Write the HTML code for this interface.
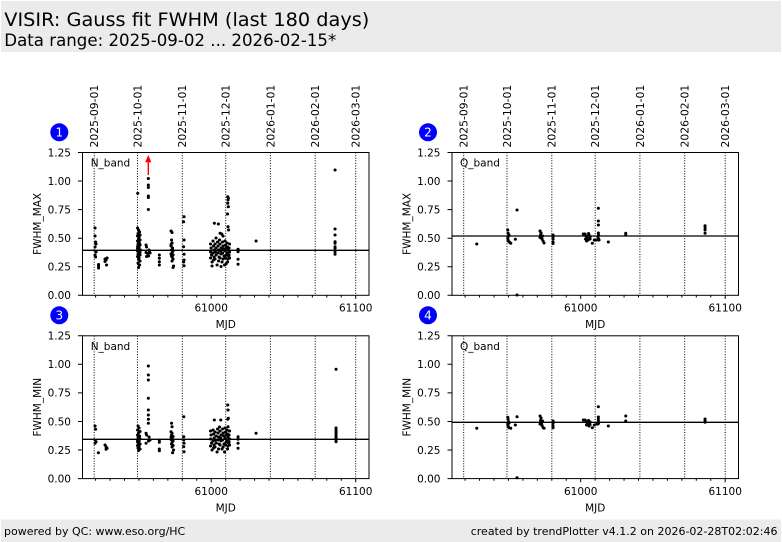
<!DOCTYPE html>
<html><head><meta charset="utf-8"><style>
html,body{margin:0;padding:0;background:#fff;}
svg{display:block;}
text{font-family:"DejaVu Sans","Liberation Sans",sans-serif;fill:#000;}
.m{font-family:"DejaVu Sans Mono","Liberation Mono",monospace;font-size:10.8px;}
.t{font-size:10.5px;}
</style></head><body>
<svg width="782" height="542" viewBox="0 0 782 542" xmlns="http://www.w3.org/2000/svg">
<rect x="0" y="0" width="782" height="542" fill="#fff"/>
<rect x="1" y="1" width="780" height="51" fill="#ebebeb"/>
<text x="4.3" y="26" font-size="19" textLength="365" lengthAdjust="spacingAndGlyphs">VISIR: Gauss fit FWHM (last 180 days)</text>
<text x="4.3" y="46" font-size="16.5" textLength="332" lengthAdjust="spacingAndGlyphs">Data range: 2025-09-02 ... 2026-02-15*</text>
<rect x="1" y="519.5" width="780" height="22.5" fill="#ebebeb"/>
<text x="4" y="535" font-size="11">powered by QC: www.eso.org/HC</text>
<text x="777.5" y="535" font-size="11" text-anchor="end">created by trendPlotter v4.1.2 on 2026-02-28T02:02:46</text>

<!-- Panel frame 1 -->
<g id="f1">
<g stroke="#000" stroke-width="1" fill="none">
<path stroke-dasharray="1 1.6" d="M94.2 152.5V295.3M137.5 152.5V295.3M182.3 152.5V295.3M225.7 152.5V295.3M270.4 152.5V295.3M315.2 152.5V295.3M355.7 152.5V295.3"/>
<rect x="82.5" y="152.5" width="286.5" height="142.8"/>
<path d="M78 152.5h4.5M78 181h4.5M78 209.6h4.5M78 238.2h4.5M78 266.7h4.5M78 295.3h4.5"/>
<path d="M95.6 295.3v2.2M110.05 295.3v2.2M124.5 295.3v2.2M138.95 295.3v2.2M153.4 295.3v2.2M167.85 295.3v2.2M182.3 295.3v2.2M196.75 295.3v2.2M225.65 295.3v2.2M240.1 295.3v2.2M254.55 295.3v2.2M269 295.3v2.2M283.45 295.3v2.2M297.9 295.3v2.2M312.35 295.3v2.2M326.8 295.3v2.2M341.25 295.3v2.2M211.2 295.3v3.6M355.7 295.3v3.6"/>
</g>
<g class="t" text-anchor="end">
<text x="71" y="156.3">1.25</text><text x="71" y="184.8">1.00</text><text x="71" y="213.4">0.75</text><text x="71" y="242">0.50</text><text x="71" y="270.5">0.25</text><text x="71" y="299.1">0.00</text>
</g>
<g class="t" text-anchor="middle">
<text x="211.2" y="311.5">61000</text><text x="355.7" y="311.5">61100</text><text x="225.7" y="328">MJD</text>
</g>
</g>

<!-- Panel frame 2 -->
<g transform="translate(369.5,0)">
<g stroke="#000" stroke-width="1" fill="none">
<path stroke-dasharray="1 1.6" d="M94.2 152.5V295.3M137.5 152.5V295.3M182.3 152.5V295.3M225.7 152.5V295.3M270.4 152.5V295.3M315.2 152.5V295.3M355.7 152.5V295.3"/>
<rect x="82.5" y="152.5" width="286.5" height="142.8"/>
<path d="M78 152.5h4.5M78 181h4.5M78 209.6h4.5M78 238.2h4.5M78 266.7h4.5M78 295.3h4.5"/>
<path d="M95.6 295.3v2.2M110.05 295.3v2.2M124.5 295.3v2.2M138.95 295.3v2.2M153.4 295.3v2.2M167.85 295.3v2.2M182.3 295.3v2.2M196.75 295.3v2.2M225.65 295.3v2.2M240.1 295.3v2.2M254.55 295.3v2.2M269 295.3v2.2M283.45 295.3v2.2M297.9 295.3v2.2M312.35 295.3v2.2M326.8 295.3v2.2M341.25 295.3v2.2M211.2 295.3v3.6M355.7 295.3v3.6"/>
</g>
<g class="t" text-anchor="end">
<text x="71" y="156.3">1.25</text><text x="71" y="184.8">1.00</text><text x="71" y="213.4">0.75</text><text x="71" y="242">0.50</text><text x="71" y="270.5">0.25</text><text x="71" y="299.1">0.00</text>
</g>
<g class="t" text-anchor="middle">
<text x="211.2" y="311.5">61000</text><text x="355.7" y="311.5">61100</text><text x="225.7" y="328">MJD</text>
</g>
</g>

<!-- Panel frame 3 -->
<g transform="translate(0,183.3)">
<g stroke="#000" stroke-width="1" fill="none">
<path stroke-dasharray="1 1.6" d="M94.2 152.5V295.3M137.5 152.5V295.3M182.3 152.5V295.3M225.7 152.5V295.3M270.4 152.5V295.3M315.2 152.5V295.3M355.7 152.5V295.3"/>
<rect x="82.5" y="152.5" width="286.5" height="142.8"/>
<path d="M78 152.5h4.5M78 181h4.5M78 209.6h4.5M78 238.2h4.5M78 266.7h4.5M78 295.3h4.5"/>
<path d="M95.6 295.3v2.2M110.05 295.3v2.2M124.5 295.3v2.2M138.95 295.3v2.2M153.4 295.3v2.2M167.85 295.3v2.2M182.3 295.3v2.2M196.75 295.3v2.2M225.65 295.3v2.2M240.1 295.3v2.2M254.55 295.3v2.2M269 295.3v2.2M283.45 295.3v2.2M297.9 295.3v2.2M312.35 295.3v2.2M326.8 295.3v2.2M341.25 295.3v2.2M211.2 295.3v3.6M355.7 295.3v3.6"/>
</g>
<g class="t" text-anchor="end">
<text x="71" y="156.3">1.25</text><text x="71" y="184.8">1.00</text><text x="71" y="213.4">0.75</text><text x="71" y="242">0.50</text><text x="71" y="270.5">0.25</text><text x="71" y="299.1">0.00</text>
</g>
<g class="t" text-anchor="middle">
<text x="211.2" y="311.5">61000</text><text x="355.7" y="311.5">61100</text><text x="225.7" y="328">MJD</text>
</g>
</g>

<!-- Panel frame 4 -->
<g transform="translate(369.5,183.3)">
<g stroke="#000" stroke-width="1" fill="none">
<path stroke-dasharray="1 1.6" d="M94.2 152.5V295.3M137.5 152.5V295.3M182.3 152.5V295.3M225.7 152.5V295.3M270.4 152.5V295.3M315.2 152.5V295.3M355.7 152.5V295.3"/>
<rect x="82.5" y="152.5" width="286.5" height="142.8"/>
<path d="M78 152.5h4.5M78 181h4.5M78 209.6h4.5M78 238.2h4.5M78 266.7h4.5M78 295.3h4.5"/>
<path d="M95.6 295.3v2.2M110.05 295.3v2.2M124.5 295.3v2.2M138.95 295.3v2.2M153.4 295.3v2.2M167.85 295.3v2.2M182.3 295.3v2.2M196.75 295.3v2.2M225.65 295.3v2.2M240.1 295.3v2.2M254.55 295.3v2.2M269 295.3v2.2M283.45 295.3v2.2M297.9 295.3v2.2M312.35 295.3v2.2M326.8 295.3v2.2M341.25 295.3v2.2M211.2 295.3v3.6M355.7 295.3v3.6"/>
</g>
<g class="t" text-anchor="end">
<text x="71" y="156.3">1.25</text><text x="71" y="184.8">1.00</text><text x="71" y="213.4">0.75</text><text x="71" y="242">0.50</text><text x="71" y="270.5">0.25</text><text x="71" y="299.1">0.00</text>
</g>
<g class="t" text-anchor="middle">
<text x="211.2" y="311.5">61000</text><text x="355.7" y="311.5">61100</text><text x="225.7" y="328">MJD</text>
</g>
</g>

<!-- Date labels top panels -->
<g class="m">
<text transform="translate(98.1,147.5) rotate(-90)">2025-09-01</text>
<text transform="translate(141.4,147.5) rotate(-90)">2025-10-01</text>
<text transform="translate(186.2,147.5) rotate(-90)">2025-11-01</text>
<text transform="translate(229.6,147.5) rotate(-90)">2025-12-01</text>
<text transform="translate(274.3,147.5) rotate(-90)">2026-01-01</text>
<text transform="translate(319.1,147.5) rotate(-90)">2026-02-01</text>
<text transform="translate(359.6,147.5) rotate(-90)">2026-03-01</text>
</g>
<g class="m" transform="translate(369.5,0)">
<text transform="translate(98.1,147.5) rotate(-90)">2025-09-01</text>
<text transform="translate(141.4,147.5) rotate(-90)">2025-10-01</text>
<text transform="translate(186.2,147.5) rotate(-90)">2025-11-01</text>
<text transform="translate(229.6,147.5) rotate(-90)">2025-12-01</text>
<text transform="translate(274.3,147.5) rotate(-90)">2026-01-01</text>
<text transform="translate(319.1,147.5) rotate(-90)">2026-02-01</text>
<text transform="translate(359.6,147.5) rotate(-90)">2026-03-01</text>
</g>

<!-- Y axis labels -->
<g class="t" text-anchor="middle">
<text transform="translate(40.8,223.9) rotate(-90)">FWHM_MAX</text>
<text transform="translate(410.3,223.9) rotate(-90)">FWHM_MAX</text>
<text transform="translate(40.8,407.2) rotate(-90)">FWHM_MIN</text>
<text transform="translate(410.3,407.2) rotate(-90)">FWHM_MIN</text>
</g>
<!-- band labels -->
<g class="t">
<text x="90.7" y="166.6">N_band</text>
<text x="460" y="166.6">Q_band</text>
<text x="90.7" y="349.9">N_band</text>
<text x="460" y="349.9">Q_band</text>
</g>

<!-- numbered circles -->
<g fill="#0000ff">
<circle cx="59.3" cy="132.3" r="9"/><circle cx="428" cy="132.3" r="9"/>
<circle cx="59.3" cy="315.3" r="9"/><circle cx="428" cy="315.3" r="9"/>
</g>
<g font-size="12" text-anchor="middle" style="fill:#fff">
<text x="59.3" y="136.6" style="fill:#fff">1</text><text x="428" y="136.6" style="fill:#fff">2</text>
<text x="59.3" y="319.6" style="fill:#fff">3</text><text x="428" y="319.6" style="fill:#fff">4</text>
</g>

<!-- reference lines -->
<g stroke="#000" stroke-width="1.3">
<path d="M82.5 250.3H369M452 236H738.5M82.5 439.3H369M452 422.3H738.5"/>
</g>

<!-- data points -->
<g stroke="#000" stroke-width="3" stroke-linecap="round" fill="none">
<path d="M95 228h.1M95 236h.1M95.5 242h.1M96 244h.1M95 247h.1M96 252h.1M95 255h.1M95.5 257h.1M98.5 264.5h.1M98.5 266h.1M98.5 268h.1M105 259h.1M106 260h.1M107 258h.1M106.5 265h.1M105 261.5h.1
M137.7 193.3h.1M137.5 228h.1M138.5 230h.1M139.5 232h.1M138 233.5h.1M140 235h.1M137.5 236h.1M139 237.5h.1M138.5 239h.1M140 240h.1M137.5 241h.1M139 242.5h.1M138 244h.1M140 245h.1M137.5 246.5h.1M139 247.5h.1M138.5 249h.1M140.5 250h.1M137.5 251h.1M139 252.5h.1M138 254h.1M140 255h.1M137.5 256.5h.1M139 258h.1M138.5 259.5h.1M140 261h.1M138 263h.1M139.5 265h.1M138.5 267.5h.1M137.5 248.5h.1M140 252.5h.1M138 257h.1M139.5 243.5h.1
M146 245h.1M146.5 247h.1M146 252.5h.1M146.5 256.5h.1M148.3 178.5h.1M148.3 185h.1M148.3 187.5h.1M148.3 196h.1M148.3 197.5h.1M148.3 209.5h.1M149 250h.1M150 253h.1M148.5 256h.1M149.5 251.5h.1M147.5 253.5h.1
M159.3 255h.1M159.3 258.3h.1M159.3 261.7h.1M159.3 265h.1
M171 231h.1M172 232.5h.1M171.5 240h.1M172 243h.1M171 246h.1M172.5 248h.1M171.5 250h.1M173 251h.1M172 253h.1M171 254h.1M173 255h.1M172 257h.1M173 259h.1M172 261h.1M173.5 266h.1M173 267.5h.1M171 244.5h.1M172.5 249.5h.1M171.5 256h.1
M184 216.7h.1M183.5 221.7h.1M184 240h.1M183.5 246.7h.1M184 254.3h.1M184 260h.1M183.5 262h.1M184 265.7h.1
M227.7 196.7h.1M228.3 198.3h.1M228 200h.1M227.7 203.3h.1M228.3 206.7h.1M227.5 214h.1M228 226.7h.1M228.5 230h.1M214.3 223.3h.1M218.3 224h.1M220 233.3h.1M221.7 234h.1M223 236h.1M216 238h.1
M210.5 244h.1M211 248h.1M210.5 252h.1M211.5 255h.1M210.5 258h.1M212 262h.1M213 241h.1M213.5 246h.1M214 250h.1M213 253h.1M214 257h.1M213.5 260h.1M215 244h.1M216 248h.1M215.5 252h.1M216 255h.1M215 259h.1M217 265h.1M217.5 242h.1M218 246h.1M218.5 250h.1M218 253h.1M219 257h.1M218.5 261h.1M219.5 240h.1M220 244h.1M221 248h.1M220.5 251h.1M221 254h.1M220 258h.1M222 262h.1M222.5 242h.1M223 246h.1M223.5 249h.1M222.5 253h.1M224 256h.1M223 259h.1M224.5 265h.1M225 241h.1M225.5 245h.1M226 248h.1M225 251h.1M226 255h.1M225.5 258h.1M227 243h.1M227.5 247h.1M228 250h.1M227 253h.1M228.5 256h.1M228 259h.1M227.5 262h.1M229.5 244h.1M229 248h.1M229.5 252h.1M229 255h.1M229.5 258h.1M212 266h.1M221 266.5h.1M226 264h.1
M238 249.3h.1M238 251.7h.1M238 259.3h.1M238 264.3h.1M256 241h.1
M335 170h.1M335 229h.1M335 235h.1M335 241.7h.1M335 243.3h.1M335 246.7h.1M335 248.3h.1M335 251.7h.1M335 254.3h.1"/>

<path d="M476.7 244h.1M507.7 230h.1M508 233.3h.1M508.5 236h.1M507.7 238.3h.1M508 240h.1M509 241.7h.1M510 242.7h.1M510.7 243.3h.1M509 235h.1
M515.3 239.3h.1M517 210h.1M517 295h.1
M540 231h.1M541 233h.1M540.5 235h.1M541.5 237h.1M542 239h.1M543 241h.1M544 243h.1M542.5 236h.1M540 237.5h.1
M553 235h.1M553 237h.1M553 239h.1M553 242h.1M553 243.5h.1M583.3 234h.1
M585 234h.1M586 236h.1M587 238h.1M588 240h.1M589 235h.1M590 237h.1M586.5 241h.1M588.5 233.5h.1M590 239h.1M585.5 239h.1
M592.3 243.3h.1M594.3 240h.1M598.3 208.3h.1M598.3 221h.1M598.3 225h.1M598.3 233h.1M598.5 235h.1M598 237h.1M598.5 239h.1M599 240h.1M596.7 240h.1
M608.3 242h.1M625.7 233.3h.1M625.7 235h.1M705 225.7h.1M705 227.7h.1M705 230h.1M705 233.3h.1"/>

<path d="M95 426h.1M95.5 429.3h.1M95 440h.1M96 441.7h.1M95 443.3h.1M98.3 452.7h.1M105 445h.1M106 446.7h.1M107 448.3h.1M106 449.3h.1
M138 426h.1M139 428h.1M137.5 430h.1M140 431.5h.1M138.5 433h.1M137.5 435h.1M139.5 436h.1M138 437.5h.1M140 439h.1M137.5 440.5h.1M139 441.5h.1M138.5 443h.1M140 444h.1M137.5 445.5h.1M139 446.5h.1M138 448h.1M140 449h.1M138.5 450.5h.1M139.5 438h.1M137.5 442h.1
M146 433.3h.1M146.5 435h.1M146 443.3h.1M148.3 366h.1M148.3 375h.1M148.3 380h.1M148.3 398.3h.1M148.3 410h.1M148.3 415h.1M148.3 419.3h.1M148.3 423.3h.1M149 437h.1M150 440h.1M148.5 441h.1
M159.3 440h.1M159.3 442.3h.1M159.3 449h.1M159.3 450.7h.1
M171.5 423.3h.1M172 426.7h.1M171 431.7h.1M172 433.3h.1M171.5 435h.1M173 436.5h.1M172 438h.1M171 439.5h.1M173 441h.1M172 442.5h.1M171.5 444h.1M173 445.5h.1M172 447h.1M173.5 450h.1M172.5 452.7h.1M171 437h.1
M183.7 416.7h.1M183.7 436.7h.1M183.7 440h.1M184 443.3h.1M183.7 446.7h.1M184 451.7h.1
M227.7 405h.1M228 410h.1M228.3 418.3h.1M227.7 419.3h.1M228 426.7h.1M214.3 420h.1M220.7 420h.1
M210.5 431h.1M211 435h.1M210.5 439h.1M211.5 443h.1M210.5 446h.1M212 450h.1M213 430h.1M213.5 434h.1M214 438h.1M213 441h.1M214 445h.1M213.5 448h.1M215 432h.1M216 436h.1M215.5 440h.1M216 443h.1M215 447h.1M217 452h.1M217.5 429h.1M218 433h.1M218.5 437h.1M218 440h.1M219 444h.1M218.5 449h.1M219.5 427h.1M220 431h.1M221 435h.1M220.5 438h.1M221 441h.1M220 445h.1M222 449h.1M222.5 429h.1M223 433h.1M223.5 436h.1M222.5 440h.1M224 444h.1M223 447h.1M224.5 452h.1M225 428h.1M225.5 432h.1M226 435h.1M225 438h.1M226 442h.1M225.5 445h.1M227 430h.1M227.5 434h.1M228 437h.1M227 440h.1M228.5 443h.1M228 446h.1M227.5 449h.1M229.5 431h.1M229 435h.1M229.5 439h.1M229 442h.1M229.5 445h.1
M238 436.7h.1M238 439.3h.1M238 443.3h.1M238 448.3h.1M256 433.3h.1
M336 369.3h.1M336 428h.1M336 430h.1M336 432h.1M336 434h.1M336 436h.1M336 438h.1M336 440h.1M336 441.7h.1"/>

<path d="M476.7 428.3h.1M507.7 417.3h.1M508 419.3h.1M508.5 421.7h.1M507.7 424h.1M508 426h.1M509 427.7h.1M510.7 428.3h.1M509 423h.1
M515.3 425h.1M517 416.7h.1M517 477.7h.1
M540 416h.1M541 418h.1M540.5 420.5h.1M541.5 423h.1M542 425.5h.1M543 427.5h.1M544 428.3h.1M542.5 421h.1M540 424h.1
M553 421h.1M553 423.3h.1M553 426h.1M553 427.7h.1M583.3 420h.1
M585 420h.1M586 421.5h.1M587 423h.1M588 424.5h.1M589 426h.1M590 422h.1M586.5 425h.1M588.5 420.5h.1M590 424.5h.1
M592.3 427.7h.1M594.3 425h.1M598.3 406.7h.1M598.3 417h.1M598.3 419h.1M598.3 421h.1M598.5 423h.1M598 424h.1M596.7 424h.1
M608.3 426h.1M625.7 416h.1M625.7 421h.1M705 419h.1M705 420.7h.1M705 422.3h.1"/>
</g>

<!-- red arrow -->
<path d="M148.3 175V161" stroke="#ff0000" stroke-width="1.4"/>
<polygon points="145.2,162.3 151.4,162.3 148.3,155" fill="#ff0000"/>
</svg>
</body></html>
